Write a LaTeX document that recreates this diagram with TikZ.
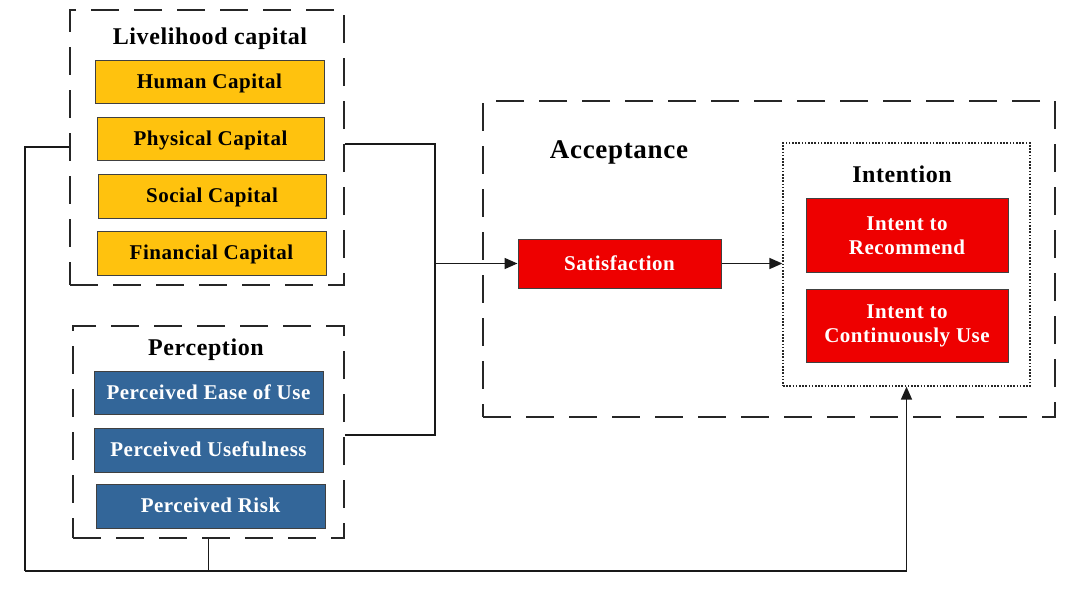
\documentclass[tikz,border=0pt]{standalone}
\usepackage{fontspec}
\setmainfont{Liberation Serif}[LetterSpace=2.5]
\usetikzlibrary{arrows.meta,calc}
\definecolor{capyellow}{HTML}{FFC20E}
\definecolor{perblue}{HTML}{336699}
\definecolor{accred}{HTML}{EE0000}
\definecolor{edgegray}{HTML}{404040}
\tikzset{
  box/.style={draw=edgegray, line width=1pt, inner sep=0pt, align=center, font=\fontsize{21}{24}\selectfont\bfseries},
  oneline/.style={text height=15pt, text depth=2pt},
  ybox/.style={box, oneline, fill=capyellow, text=black},
  bbox/.style={box, oneline, fill=perblue, text=white},
  rbox/.style={box, fill=accred, text=white},
  groupbox/.style={draw=black!85, line width=1.8pt, dash pattern=on 28pt off 15pt, inner sep=0pt},
  dotbox/.style={draw=black!85, line width=1.3pt, dash pattern=on 1.6pt off 1.6pt, inner sep=0pt},
  title/.style={font=\fontsize{24}{28}\selectfont\bfseries, inner sep=0pt, text height=16pt, text depth=1pt},
  conn/.style={draw=black!90, line width=1.6pt},
  arr/.style={conn, -{Triangle[length=13pt,width=11pt]}}
}
\begin{document}
\begin{tikzpicture}[x=1pt,y=-1pt]
\useasboundingbox (0,0) rectangle (1080,592);
% Livelihood capital group
\node[groupbox, minimum width=274, minimum height=275] (lc) at (207,147.5) {};
\node[title] (lct) at (210,37) {Livelihood capital};
\node[ybox, minimum width=229, minimum height=43] (hc) at (209.5,81.5) {Human Capital};
\node[ybox, minimum width=227, minimum height=43] (phc) at (210.5,138.5) {Physical Capital};
\node[ybox, minimum width=228, minimum height=44] (sc) at (212,196) {Social Capital};
\node[ybox, minimum width=229, minimum height=44] (fc) at (211.5,253) {Financial Capital};
% Perception group
\node[groupbox, minimum width=271, minimum height=212] (pc) at (208.5,432) {};
\node[title] (pct) at (206,348) {Perception};
\node[bbox, minimum width=229, minimum height=43] (peou) at (208.5,392.5) {Perceived Ease of Use};
\node[bbox, minimum width=229, minimum height=44] (pu) at (208.5,450) {Perceived Usefulness};
\node[bbox, minimum width=229, minimum height=44] (pr) at (210.5,506) {Perceived Risk};
% Acceptance group
\node[groupbox, minimum width=572, minimum height=316] (ac) at (769,259) {};
\node[title, font=\fontsize{27}{30}\selectfont\bfseries, text height=18pt] (act) at (619,150) {Acceptance};
\node[rbox, oneline, minimum width=203, minimum height=49] (sat) at (619.5,263.5) {Satisfaction};
\node[dotbox, minimum width=247, minimum height=243] (int) at (906.5,264.5) {};
\node[title] (intt) at (902,175) {Intention};
\node[rbox, minimum width=202, minimum height=74] (rec) at (907,235.5) {Intent to\\Recommend};
\node[rbox, minimum width=202, minimum height=73] (cu) at (907,326) {Intent to\\Continuously Use};
% junction coordinates
\coordinate (j1) at (435,144);
\coordinate (j2) at (435,435);
\coordinate (lj) at (25,147);
\coordinate (bj) at (25,571);
% connectors
\draw[conn] (lc.east |- j1) -- (j1) -- (j2) -- (pc.east |- j2);
\draw[arr] (j1 |- sat.west) -- (sat.west);
\draw[arr] (sat.east) -- (int.west |- sat.east);
\draw[conn] (lc.west |- lj) -- (lj) -- (bj);
\draw[conn] (pc.south) -- (pc.south |- bj);
\draw[arr] (bj) -- (int.south |- bj) -- (int.south);
\end{tikzpicture}
\end{document}
